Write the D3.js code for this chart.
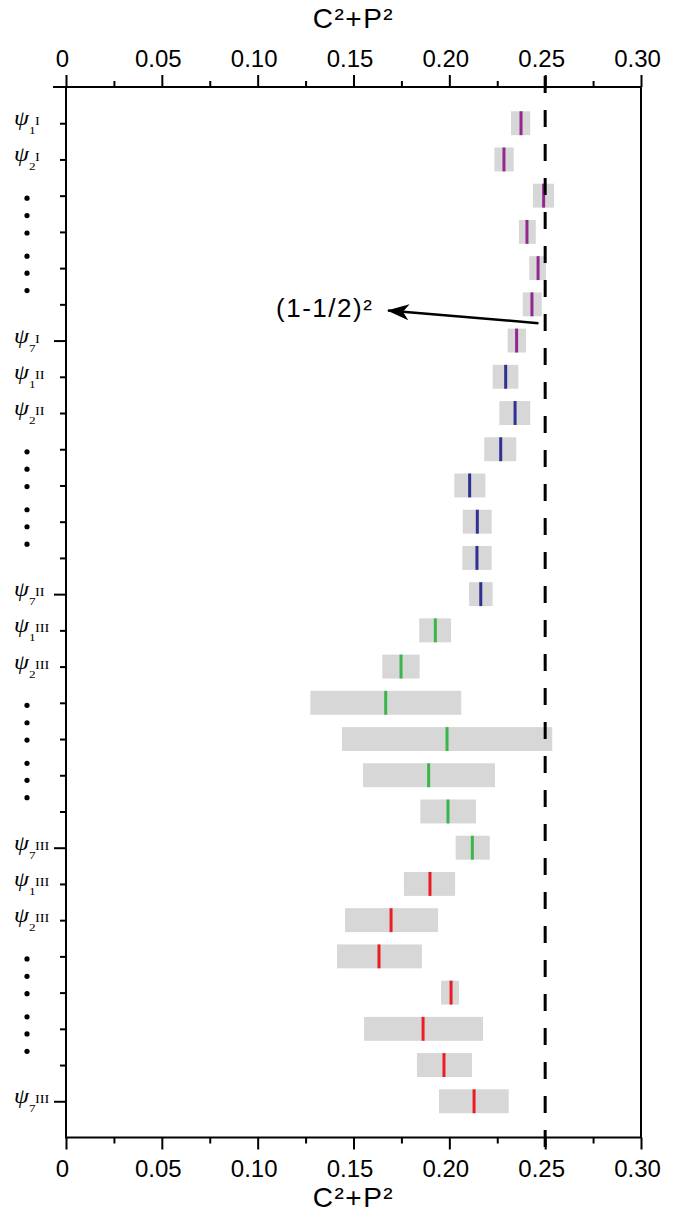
<!DOCTYPE html>
<html>
<head>
<meta charset="utf-8">
<script src="https://cdn.jsdelivr.net/npm/d3@7"></script>
<style>
  body { margin: 0; background: #fff; }
  .tick text { font-family: "Liberation Sans", Arial, sans-serif; font-size: 24px; fill: #000; }
  .axis line { stroke: #000; stroke-width: 2; }
</style>
</head>
<body>
<div id="chart"></div>
<script>
// value ranges (low, centre, high) for the 28 rows, read top to bottom
var rows = d3.range(1, 29);
var lows = [0.2322, 0.2235, 0.2436, 0.2363, 0.2417, 0.2383, 0.2304,
            0.2226, 0.2261, 0.2182, 0.2026, 0.2070, 0.2068, 0.2103,
            0.1843, 0.1650, 0.1275, 0.1440, 0.1550, 0.1849, 0.2033,
            0.1763, 0.1456, 0.1414, 0.1957, 0.1555, 0.1831, 0.1946];
var centers = [0.2374, 0.2285, 0.2492, 0.2405, 0.2463, 0.2431, 0.2351,
               0.2294, 0.2343, 0.2268, 0.2106, 0.2146, 0.2144, 0.2164,
               0.1927, 0.1748, 0.1668, 0.1988, 0.1892, 0.1993, 0.2120,
               0.1899, 0.1696, 0.1633, 0.2009, 0.1863, 0.1972, 0.2129];
var highs = [0.2422, 0.2336, 0.2546, 0.2451, 0.2504, 0.2482, 0.2400,
             0.2360, 0.2422, 0.2349, 0.2188, 0.2221, 0.2221, 0.2226,
             0.2009, 0.1845, 0.2062, 0.2537, 0.2238, 0.2139, 0.2211,
             0.2030, 0.1941, 0.1857, 0.2050, 0.2176, 0.2118, 0.2310];
var groupColors = ["#92278f", "#2e3192", "#39b54a", "#ed1c24"];
var groupNumerals = ["I", "II", "III", "III"];
var labelSubs = [1, 2, 7];
var xTicks = [0, 0.05, 0.10, 0.15, 0.20, 0.25, 0.30];
var xMinorTicks = [0.025, 0.075, 0.125, 0.175, 0.225, 0.275];
var majorRows = [7, 14, 21, 28];
var limit = 0.25;

var svgWidth = 681;
var svgHeight = 1219;

var svg = d3.select("#chart")
  .append("svg")
  .attr("width", svgWidth)
  .attr("height", svgHeight);

var x = d3.scaleLinear().domain([0, 0.3]).range([66, 641]);
var y = d3.scaleLinear().domain([0, 29]).range([87, 1137.5]);
var barHalf = 0.33;

var fmt = function(d) { return d === 0 ? "0" : d3.format(".2f")(d); };

// bars
var bars = svg.append("g");
rows.forEach(function(r, i) {
  bars.append("rect")
    .attr("x", x(lows[i]))
    .attr("y", y(r - barHalf))
    .attr("width", x(highs[i]) - x(lows[i]))
    .attr("height", y(r + barHalf) - y(r - barHalf))
    .attr("fill", "#d7d7d7");
  bars.append("line")
    .attr("x1", x(centers[i])).attr("x2", x(centers[i]))
    .attr("y1", y(r - barHalf)).attr("y2", y(r + barHalf))
    .attr("stroke", groupColors[Math.floor(i / 7)])
    .attr("stroke-width", 3);
});

// dashed reference line
svg.append("line")
  .attr("x1", x(limit)).attr("x2", x(limit))
  .attr("y1", 76).attr("y2", 1150)
  .attr("stroke", "#000")
  .attr("stroke-width", 3)
  .attr("stroke-dasharray", "17,17");

// frame
svg.append("rect")
  .attr("x", x(0)).attr("y", y(0))
  .attr("width", x(0.3) - x(0))
  .attr("height", y(29) - y(0))
  .attr("fill", "none")
  .attr("stroke", "#000")
  .attr("stroke-width", 2);
svg.append("line")
  .attr("x1", 53).attr("x2", x(0))
  .attr("y1", y(0)).attr("y2", y(0))
  .attr("stroke", "#000").attr("stroke-width", 2);

// top axis
var topAxis = svg.append("g").attr("class", "axis")
  .attr("transform", `translate(0, ${y(0)})`)
  .call(d3.axisTop(x).tickValues(xTicks).tickSize(12).tickPadding(8).tickFormat(fmt));
topAxis.append("g").call(d3.axisTop(x).tickValues(xMinorTicks).tickSize(6).tickFormat(""));

// bottom axis
var bottomAxis = svg.append("g").attr("class", "axis")
  .attr("transform", `translate(0, ${y(29)})`)
  .call(d3.axisBottom(x).tickValues(xTicks).tickSize(12).tickPadding(10).tickFormat(fmt));
bottomAxis.append("g").call(d3.axisBottom(x).tickValues(xMinorTicks).tickSize(6).tickFormat(""));

// left axis
var leftAxis = svg.append("g").attr("class", "axis")
  .attr("transform", `translate(${x(0)}, 0)`)
  .call(d3.axisLeft(y).tickValues(rows.filter(r => majorRows.indexOf(r) < 0)).tickSize(6).tickFormat(""));
leftAxis.append("g").call(d3.axisLeft(y).tickValues(majorRows).tickSize(12).tickFormat(""));

svg.selectAll(".axis .domain").remove();
svg.selectAll(".axis .tick text").attr("dx", -4);

// axis titles
[28, 1207].forEach(function(ty) {
  svg.append("text")
    .attr("x", x(0.15)).attr("y", ty)
    .attr("text-anchor", "middle")
    .style("font-family", "Liberation Sans, Arial, sans-serif")
    .style("font-size", "28px")
    .style("letter-spacing", "1.5px")
    .text("C²+P²");
});

// row labels: psi with subscript and superscript in one text
var labels = svg.append("g").style("font-family", "Liberation Serif, Times New Roman, serif");
groupNumerals.forEach(function(num, g) {
  labelSubs.forEach(function(k) {
    var r = g * 7 + k;
    var t = labels.append("text")
      .attr("transform", `translate(14, ${y(r)}) scale(1.2, 1)`);
    t.append("tspan")
      .attr("x", 0).attr("y", 2)
      .style("font-size", "20px").style("font-style", "italic")
      .text("ψ");
    t.append("tspan")
      .attr("x", 12.5).attr("y", 11)
      .style("font-size", "11px")
      .text(k);
    t.append("tspan")
      .attr("x", 17.5).attr("y", 2)
      .style("font-size", "12px")
      .text(num);
  });
  // vertical ellipsis dots
  [0.07, 0.55, 1.03, 1.67, 2.14, 2.62].forEach(function(off) {
    labels.append("circle")
      .attr("cx", 27).attr("cy", y(g * 7 + 3 + off))
      .attr("r", 2.6).attr("fill", "#000");
  });
});

// annotation arrow
svg.append("defs").append("marker")
  .attr("id", "head")
  .attr("viewBox", "0 0 22 16")
  .attr("refX", 21).attr("refY", 8)
  .attr("markerWidth", 22).attr("markerHeight", 16)
  .attr("markerUnits", "userSpaceOnUse")
  .attr("orient", "auto")
  .append("path")
  .attr("d", "M0,0 L22,8 L0,16 L6,8 Z")
  .attr("fill", "#000");

svg.append("line")
  .attr("x1", x(0.2465)).attr("y1", y(6.52))
  .attr("x2", x(0.168)).attr("y2", y(6.17))
  .attr("stroke", "#000").attr("stroke-width", 2.5)
  .attr("marker-end", "url(#head)");

svg.append("text")
  .attr("x", x(0.1096)).attr("y", y(6.34))
  .style("font-family", "Liberation Sans, Arial, sans-serif")
  .style("font-size", "26px")
  .style("letter-spacing", "1.5px")
  .text("(1-1/2)²");
</script>
</body>
</html>
